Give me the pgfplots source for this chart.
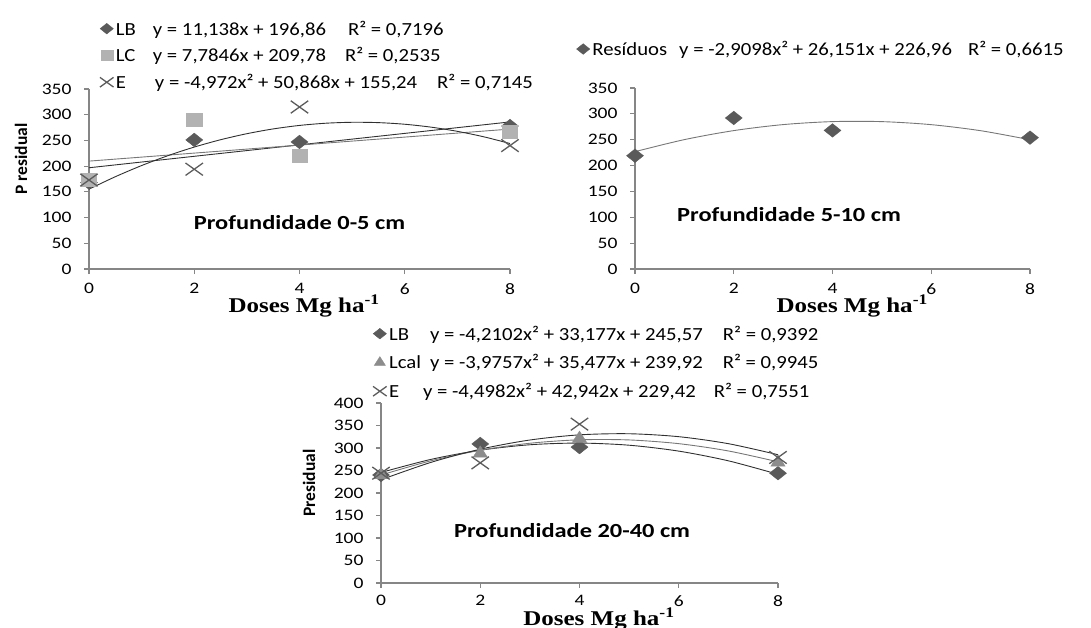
\documentclass[border=0pt]{standalone}
\usepackage{pgfplots}
\pgfplotsset{compat=1.18}
\usepackage{fontspec}
\setmainfont{Carlito}[FakeStretch=1.22]
\newfontfamily\carlnat{Carlito}
\newfontfamily\legf{Carlito}[FakeStretch=1.12]
\newfontfamily\timesf{Liberation Serif}[FakeStretch=1.19]
\definecolor{axgray}{HTML}{868686}
\definecolor{lbcol}{HTML}{5A5A5A}
\definecolor{lccol}{HTML}{B2B2B2}
\definecolor{ecol}{HTML}{5C5C5C}
\definecolor{lcalcol}{HTML}{8C8C8C}
\definecolor{tr1}{HTML}{303030}
\definecolor{tr2}{HTML}{777777}
\tikzset{
 prof/.style={font=\fontsize{20}{20}\selectfont\bfseries},
 xl/.style={font=\fontsize{21}{21}\selectfont\timesf\bfseries},
 yl/.style={rotate=90, font=\fontsize{17.5}{17.5}\selectfont\carlnat\bfseries},
}
\pgfplotsset{
 base/.style={scale only axis, xmin=0, xmax=8, ymin=0,
   axis x line*=bottom, axis y line*=left,
   axis line style={-, draw=axgray, line width=1.2pt},
   tick style={draw=axgray, line width=1.2pt}, tick align=outside, major tick length=5pt,
   xtick={0,2,4,6,8}, clip=false,
   tick label style={font=\fontsize{16}{16}\selectfont},
   xticklabel style={yshift=-6pt},
   yticklabel style={xshift=-9pt},
   /pgf/number format/assume math mode=true,
   legend style={draw=none, fill=none, font=\fontsize{18.5}{20}\selectfont\legf,
     cells={anchor=west}, row sep=7pt, inner sep=0pt, outer sep=0pt},
   legend cell align=left,
   legend image code/.code={\path (0pt,0pt) (13pt,0pt); \draw[#1, every mark/.append style={scale=0.78}] plot coordinates {(6pt,0pt)};},
 },
 lb/.style={only marks, mark=square*, mark size=4.8pt, color=lbcol, mark options={xscale=1.25, rotate=45}},
 lc/.style={only marks, mark=square*, mark size=6.4pt, color=lccol, mark options={xscale=1.2}},
 ee/.style={only marks, mark=x, mark size=8.8pt, color=ecol, mark options={xscale=1.4, line width=1.3pt}},
 lcal/.style={only marks, mark=triangle*, mark size=7.5pt, color=lcalcol, mark options={xscale=1.1}},
 trend/.style={forget plot, smooth, no marks, line width=0.9pt, color=#1},
}
\begin{document}
\begin{tikzpicture}
\useasboundingbox (0,0) rectangle (1091pt,-628pt);
% ---------------- top left
\begin{axis}[base, at={(89pt,-269pt)}, anchor=south west, width=421pt, height=180pt,
  ymax=350, ytick={0,50,...,350},
  legend style={at={(0.026,1.39)}, anchor=north west}]
\addplot[lb] coordinates {(0,168) (2,251) (4,247) (8,278)};
\addlegendentry{\makebox[37pt][l]{LB}y = 11,138x + 196,86\hspace{22pt}R² = 0,7196}
\addplot[lc] coordinates {(0,173) (2,291) (4,220) (8,267)};
\addlegendentry{\makebox[37pt][l]{LC}y = 7,7846x + 209,78\hspace{19pt}R² = 0,2535}
\addplot[ee] coordinates {(0,173) (2,194) (4,315) (8,240)};
\addlegendentry{\makebox[39pt][l]{E}y = -4,972x² + 50,868x + 155,24\hspace{20pt}R² = 0,7145}
\addplot[trend=tr1] coordinates {(0,196.86) (8,285.96)};
\addplot[trend=tr2] coordinates {(0,209.78) (8,272.06)};
\addplot[trend=tr1] coordinates {(0,155.24) (0.5,179.43) (1,201.14) (1.5,220.36) (2,237.09) (2.5,251.34) (3,263.10) (3.5,272.37) (4,279.16) (4.5,283.46) (5,285.28) (5.5,284.61) (6,281.46) (6.5,275.82) (7,267.69) (7.5,257.08) (8,243.98)};
\node[prof] at (axis cs:4.0,89.5) {Profundidade 0-5 cm};
\node[xl] at ([yshift=-37pt]rel axis cs:0.511,0) {Doses Mg ha\textsuperscript{-1}};
\node[yl] at ([xshift=-68pt]rel axis cs:0,0.61) {P residual};
\end{axis}
% ---------------- top right
\begin{axis}[base, at={(635pt,-269pt)}, anchor=south west, width=395pt, height=181pt,
  ymax=350, ytick={0,50,...,350},
  legend style={at={(-0.148,1.27)}, anchor=north west}]
\addplot[lb] coordinates {(0,219) (2,292) (4,268) (8,254)};
\addlegendentry{Resíduos\hspace{12pt}y = -2,9098x² + 26,151x + 226,96\hspace{16pt}R² = 0,6615}
\addplot[trend=tr2] coordinates {(0,226.96) (1,250.20) (2,267.62) (3,279.23) (4,285.01) (5,284.97) (6,279.11) (7,267.44) (8,249.94)};
\node[prof] at (axis cs:3.12,104.4) {Profundidade 5-10 cm};
\node[xl] at ([yshift=-37pt]rel axis cs:0.55,0) {Doses Mg ha\textsuperscript{-1}};
\end{axis}
% ---------------- bottom
\begin{axis}[base, at={(381pt,-583pt)}, anchor=south west, width=397pt, height=180pt,
  ymax=400, ytick={0,50,...,400}, xticklabel style={yshift=2pt},
  legend style={at={(-0.02,1.44)}, anchor=north west, row sep=9pt}]
\addplot[lb] coordinates {(0,240) (2,309) (4,302) (8,244)};
\addlegendentry{\makebox[41pt][l]{LB}y = -4,2102x² + 33,177x + 245,57\hspace{20pt}R² = 0,9392}
\addplot[lcal] coordinates {(0,240) (2,288) (4,321) (8,268)};
\addlegendentry{\makebox[41pt][l]{Lcal}y = -3,9757x² + 35,477x + 239,92\hspace{20pt}R² = 0,9945}
\addplot[ee] coordinates {(0,244) (2,267) (4,353) (8,279)};
\addlegendentry{\makebox[34pt][l]{E}y = -4,4982x² + 42,942x + 229,42\hspace{18pt}R² = 0,7551}
\addplot[trend=tr1] coordinates {(0,245.57) (1,274.54) (2,295.08) (3,307.21) (4,310.92) (5,306.20) (6,293.07) (7,271.51) (8,241.53)};
\addplot[trend=tr2] coordinates {(0,239.92) (1,271.42) (2,294.97) (3,310.57) (4,318.22) (5,317.91) (6,309.66) (7,293.45) (8,269.29)};
\addplot[trend=tr1] coordinates {(0,229.42) (1,267.86) (2,297.31) (3,317.76) (4,329.22) (5,331.68) (6,325.14) (7,309.60) (8,285.07)};
\node[prof] at (axis cs:3.85,115.6) {Profundidade 20-40 cm};
\node[xl] at ([yshift=-36pt]rel axis cs:0.549,0) {Doses Mg ha\textsuperscript{-1}};
\node[yl] at ([xshift=-72pt]rel axis cs:0,0.556) {Presidual};
\end{axis}
\end{tikzpicture}
\end{document}
